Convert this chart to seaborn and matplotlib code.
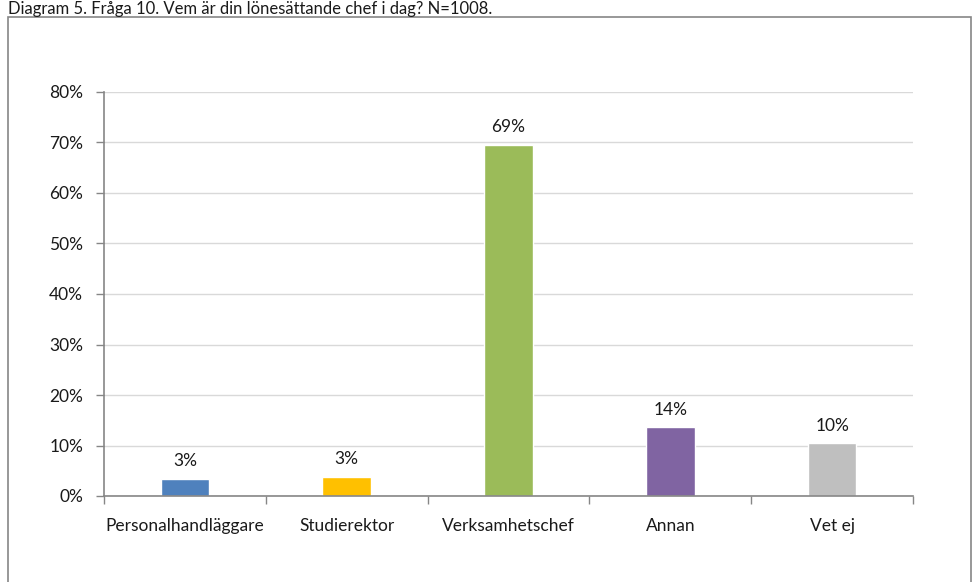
import matplotlib
matplotlib.use("Agg")
import matplotlib.pyplot as plt
import matplotlib.patches as mpatches
from matplotlib.ticker import PercentFormatter, FixedLocator
import seaborn as sns
import pandas as pd

sns.set_theme(style="white")
plt.rcParams["font.family"] = ["Lato", "DejaVu Sans"]

categories = ["Personalhandläggare", "Studierektor", "Verksamhetschef", "Annan", "Vet ej"]
values = [3.4, 3.8, 69.5, 13.6, 10.4]
labels = ["3%", "3%", "69%", "14%", "10%"]
colors = ["#4F81BD", "#FFC000", "#9BBB59", "#8064A2", "#BFBFBF"]
title = "Diagram 5. Fråga 10. Vem är din lönesättande chef i dag? N=1008."

df = pd.DataFrame({"kategori": categories, "andel": values})

fig = plt.figure(figsize=(9.73, 5.82), dpi=100)
ax = fig.add_axes([104 / 973, 86 / 582, 809 / 973, 404 / 582])

sns.barplot(data=df, x="kategori", y="andel", hue="kategori", palette=colors,
            width=0.30, saturation=1, legend=False, ax=ax)

for cont, lab in zip(ax.containers, labels):
    ax.bar_label(cont, labels=[lab], padding=7, fontsize=12.5, color="#1a1a1a")

ax.set_ylim(0, 80)
ax.set_xlim(-0.5, 4.5)
ax.yaxis.set_major_formatter(PercentFormatter(decimals=0))
ax.set_yticks(range(0, 81, 10))
ax.grid(axis="y", color="#D9D9D9", linewidth=1)
ax.set_axisbelow(True)
ax.set_xlabel("")
ax.set_ylabel("")

for side in ["top", "right"]:
    ax.spines[side].set_visible(False)
for side in ["left", "bottom"]:
    ax.spines[side].set_color("#868686")
    ax.spines[side].set_linewidth(1.2)

ax.xaxis.set_minor_locator(FixedLocator([-0.5, 0.5, 1.5, 2.5, 3.5, 4.5]))
ax.tick_params(axis="x", which="major", length=0, pad=16, labelsize=12.5, labelcolor="#1a1a1a")
ax.tick_params(axis="x", which="minor", length=6, width=1, color="#868686", direction="out", bottom=True)
ax.tick_params(axis="y", length=6, width=1, color="#868686", direction="out", left=True,
               labelsize=12.5, labelcolor="#1a1a1a", pad=9)

# outer chart frame
frame = mpatches.Rectangle((8 / 973, -0.05), 963 / 973, 1.05 - 17 / 582,
                           transform=fig.transFigure, fill=False,
                           edgecolor="#868686", linewidth=1.2)
fig.patches.append(frame)

fig.text(8 / 973, 1 - 1 / 582, title, ha="left", va="top", fontsize=12, color="#1a1a1a")

fig.savefig("out.png", dpi=100)
